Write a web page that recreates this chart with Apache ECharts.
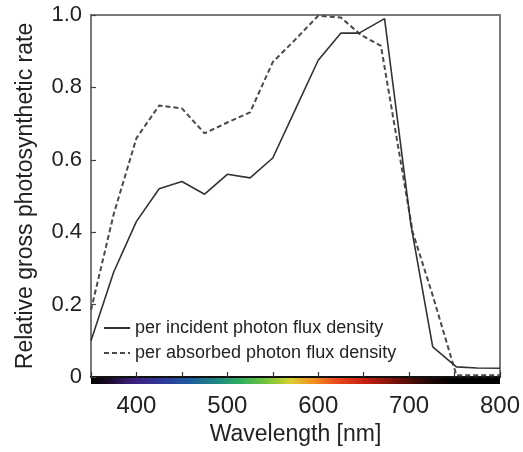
<!DOCTYPE html>
<html>
<head>
<meta charset="utf-8">
<script src="https://cdn.jsdelivr.net/npm/echarts@6/dist/echarts.min.js"></script>
<style>
html,body{margin:0;padding:0;background:#fff;}
#c{width:523px;height:452px;}
</style>
</head>
<body>
<div id="c"></div>
<script>
// Data
var incidentWl  = [350, 375, 400, 425, 450, 475, 500, 525, 550, 575, 600, 625, 645, 673, 702, 726, 752, 775, 800];
var incidentVal = [0.10, 0.29, 0.43, 0.52, 0.54, 0.505, 0.56, 0.55, 0.605, 0.74, 0.875, 0.95, 0.95, 0.99, 0.42, 0.083, 0.028, 0.025, 0.024];
var absorbedWl  = [350, 375, 400, 425, 450, 475, 500, 525, 550, 572, 600, 625, 647, 669, 704, 726, 752, 775, 800];
var absorbedVal = [0.185, 0.45, 0.66, 0.75, 0.742, 0.673, 0.703, 0.731, 0.87, 0.925, 0.998, 0.993, 0.945, 0.915, 0.40, 0.225, 0.005, 0.005, 0.005];
var seriesNames = ['per incident photon flux density', 'per absorbed photon flux density'];
var xTicks = [400, 500, 600, 700, 800];
var yTicks = [0, 0.2, 0.4, 0.6, 0.8, 1.0];
var xTitle = 'Wavelength [nm]';
var yTitle = 'Relative gross photosynthetic rate';
// spectrum colour stops (wavelength, colour)
var spectrumWl  = [350, 370, 395, 430, 460, 490, 515, 545, 570, 595, 620, 650, 690, 725, 750, 800];
var spectrumCol = ['#000000', '#1a0a2a', '#3c1e7c', '#2e3a9a', '#1f5c9e', '#1f8a80', '#2fb060', '#7ac63a', '#d8d030', '#f09020', '#ee4a1c', '#c82010', '#6a1008', '#1a0604', '#000000', '#000000'];

function pairs(xs, ys) { return xs.map(function (x, i) { return [x, ys[i]]; }); }

var chart = echarts.init(document.getElementById('c'), null, {renderer: 'canvas'});
var FONT = 'Liberation Sans, Arial, sans-serif';
var option = {
  animation: false,
  backgroundColor: '#ffffff',
  grid: {left: 91, right: 23, top: 15, bottom: 75, show: true, borderColor: '#7a7a7a', borderWidth: 2, backgroundColor: 'transparent'},
  legend: {
    orient: 'vertical', left: 103, top: 319, padding: 0, itemGap: 7,
    itemWidth: 26, itemHeight: 14,
    itemStyle: {opacity: 0, borderWidth: 0},
    textStyle: {fontFamily: FONT, fontSize: 18, color: '#222'},
    data: seriesNames
  },
  xAxis: {
    type: 'value', min: 350, max: 800, interval: 50,
    name: xTitle, nameLocation: 'middle', nameGap: 46,
    nameTextStyle: {fontFamily: FONT, fontSize: 23, color: '#222'},
    axisLine: {show: true, onZero: false, lineStyle: {color: '#111', width: 2}},
    axisTick: {show: true, inside: true, length: 5, lineStyle: {color: '#333', width: 1.2}},
    axisLabel: {
      margin: 17, fontFamily: FONT, fontSize: 24, color: '#222',
      formatter: function (v) { return xTicks.indexOf(v) >= 0 ? String(v) : ''; }
    },
    splitLine: {show: false}
  },
  yAxis: {
    type: 'value', min: 0, max: 1, interval: 0.2,
    name: yTitle, nameLocation: 'middle', nameGap: 54,
    nameTextStyle: {fontFamily: FONT, fontSize: 23, color: '#222'},
    axisLine: {show: true, lineStyle: {color: '#7a7a7a', width: 2}},
    axisTick: {show: true, inside: true, length: 5, lineStyle: {color: '#444', width: 1.2}},
    axisLabel: {
      margin: 9, fontFamily: FONT, fontSize: 22, color: '#222',
      formatter: function (v) {
        var r = Math.round(v * 10) / 10;
        if (yTicks.indexOf(r) < 0) return '';
        return r === 0 ? '0' : r.toFixed(1);
      }
    },
    splitLine: {show: false}
  },
  series: [
    {
      name: seriesNames[0], type: 'line', data: pairs(incidentWl, incidentVal),
      symbol: 'none', smooth: false, z: 3,
      lineStyle: {color: '#333333', width: 1.6, type: 'solid'},
      itemStyle: {color: '#333333'}
    },
    {
      name: seriesNames[1], type: 'line', data: pairs(absorbedWl, absorbedVal),
      symbol: 'none', smooth: false, z: 2,
      lineStyle: {color: '#4a4a4a', width: 2, type: [5, 3]},
      itemStyle: {color: '#4a4a4a'}
    }
  ]
};
chart.setOption(option);

// spectrum strip under the x axis, positioned through the axis scale
var p0 = chart.convertToPixel({gridIndex: 0}, [350, 0]);
var p1 = chart.convertToPixel({gridIndex: 0}, [800, 0]);
var span = 800 - 350;
var stops = spectrumWl.map(function (w, i) { return {offset: (w - 350) / span, color: spectrumCol[i]}; });
chart.setOption({
  graphic: [{
    type: 'rect', z: 1,
    shape: {x: p0[0], y: p0[1] + 1, width: p1[0] - p0[0], height: 6},
    style: {fill: new echarts.graphic.LinearGradient(0, 0, 1, 0, stops)},
    silent: true
  }]
});
</script>
</body>
</html>
